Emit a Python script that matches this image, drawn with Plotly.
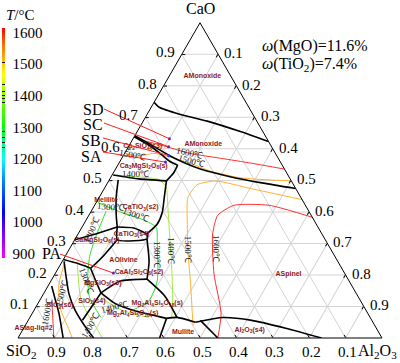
import numpy as np
import plotly.graph_objects as go

# ---------------- data: compositions as (CaO, Al2O3) fractions; SiO2 = 1 - CaO - Al2O3
boundary_lines = [
    [(0.748, 0.0), (0.732, 0.022), (0.710, 0.089), (0.688, 0.176), (0.654, 0.286), (0.623, 0.377)],
    [(0.642, 0.0), (0.617, 0.051), (0.579, 0.126), (0.555, 0.181), (0.536, 0.233), (0.511, 0.330), (0.492, 0.424), (0.474, 0.526)],
    [(0.6386, 0.0), (0.6075, 0.0617), (0.5826, 0.102), (0.5607, 0.136), (0.5483, 0.1645)],
    [(0.5483, 0.1645), (0.5234, 0.1656), (0.4984, 0.1586)],
    [(0.5171, 0.003), (0.5047, 0.0794), (0.4984, 0.1586)],
    [(0.5016, 0.0245), (0.4455, 0.047), (0.3894, 0.0752), (0.352, 0.0966)],
    [(0.4984, 0.1586), (0.4455, 0.179), (0.3988, 0.197), (0.3614, 0.202), (0.3302, 0.189)],
    [(0.352, 0.0966), (0.3489, 0.1434), (0.3302, 0.189)],
    [(0.352, 0.0966), (0.3115, 0.117), (0.3084, 0.1637), (0.3146, 0.197), (0.3302, 0.189)],
    [(0.3146, 0.197), (0.243, 0.2386), (0.1869, 0.261)],
    [(0.3115, 0.0), (0.3302, 0.0485), (0.352, 0.0966)],
    [(0.3115, 0.117), (0.2586, 0.104), (0.2212, 0.089)],
    [(0.2492, 0.0), (0.2368, 0.0448), (0.2212, 0.089)],
    [(0.2212, 0.089), (0.1807, 0.1234), (0.1433, 0.1563)],
    [(0.1433, 0.1563), (0.109, 0.213), (0.0872, 0.2746), (0.0623, 0.377)],
    [(0.1433, 0.1563), (0.1807, 0.191), (0.1869, 0.261)],
    [(0.1869, 0.261), (0.134, 0.3358), (0.0654, 0.404)],
    [(0.0623, 0.377), (0.0654, 0.404), (0.050, 0.462)],
    [(0.1433, 0.1563), (0.0997, 0.153), (0.0561, 0.149)],
    [(0.0623, 0.377), (0.0, 0.389)],
    [(0.050, 0.462), (0.065, 0.531), (0.056, 0.614), (0.031, 0.720), (0.0, 0.834)],
    [(0.056, 0.473), (0.0, 0.549)],
    [(0.243, 0.005), (0.140, 0.070), (0.087, 0.114), (0.025, 0.179), (0.0, 0.208)],
    [(0.165, 0.010), (0.128, 0.037), (0.078, 0.0735), (0.0, 0.124)],
]
iso_1600 = [
    [(0.6293, 0.0169), (0.6137, 0.081), (0.5857, 0.1797), (0.5701, 0.2718), (0.5545, 0.3642), (0.5358, 0.4642)],
    [(0.383, 0.617), (0.421, 0.479), (0.421, 0.383), (0.389, 0.354), (0.327, 0.371), (0.203, 0.437), (0.078, 0.519), (0.0, 0.549)],
    [(0.118, 0.034), (0.0, 0.0986)],
]
iso_1500 = [
    [(0.5857, 0.005), (0.5763, 0.0434), (0.5857, 0.0811), (0.5545, 0.1952), (0.5296, 0.264), (0.5078, 0.3594), (0.4984, 0.5016)],
    [(0.439, 0.561), (0.4735, 0.405), (0.498, 0.294), (0.486, 0.249), (0.445, 0.244), (0.368, 0.281), (0.274, 0.330),
     (0.181, 0.383), (0.087, 0.435), (0.040, 0.461)],
    [(0.243, 0.008), (0.171, 0.027), (0.097, 0.067), (0.025, 0.128), (0.0, 0.149)],
]
iso_1400 = [
    [(0.517, 0.003), (0.511, 0.076), (0.502, 0.137), (0.477, 0.169), (0.430, 0.196), (0.327, 0.253), (0.221, 0.312),
     (0.118, 0.366), (0.062, 0.391)],
    [(0.234, 0.046), (0.128, 0.108), (0.065, 0.164), (0.025, 0.207), (0.0, 0.231)],
    [(0.1277, 0.165), (0.0966, 0.222), (0.0779, 0.273), (0.0654, 0.326)],
]
iso_1300 = [
    [(0.430, 0.004), (0.402, 0.075), (0.374, 0.159), (0.351, 0.2045), (0.305, 0.230), (0.181, 0.292), (0.118, 0.301),
     (0.087, 0.269)],
    [(0.4019, 0.041), (0.3209, 0.053), (0.2586, 0.0676), (0.19, 0.0963), (0.1277, 0.133), (0.0654, 0.195)],
]

dots_tern = {"SD": (0.632, 0.100), "SC": (0.607, 0.110), "SB": (0.579, 0.124), "SA": (0.558, 0.126), "PA": (0.206, 0.159)}
label_px = {"SD": (93, 109), "SC": (93, 124), "SB": (91, 140), "SA": (91, 156), "PA": (51, 253)}
leader_start_px = {"SD": (104, 109), "SC": (104, 123), "SB": (103, 138), "SA": (103, 152), "PA": (60, 254)}

phase_names = ["AMonoxide", "AMonoxide", "Ca<sub>2</sub>SiO<sub>4</sub>(s3)", "Ca<sub>3</sub>MgSi<sub>2</sub>O<sub>8</sub>(s)",
               "Melilite", "CaTiO<sub>3</sub>(s2)", "CaTiO<sub>3</sub>(s4)", "CaMgSi<sub>2</sub>O<sub>6</sub>(s)", "AOlivine",
               "CaAl<sub>2</sub>Si<sub>2</sub>O<sub>8</sub>(s2)", "MgSiO<sub>3</sub>(s3)", "SiO<sub>2</sub>(s4)",
               "Mg<sub>2</sub>Al<sub>4</sub>Si<sub>5</sub>O<sub>18</sub>(s)", "Mg<sub>2</sub>Al<sub>4</sub>Si<sub>5</sub>O<sub>18</sub>(s)",
               "Mullite", "Al<sub>2</sub>O<sub>3</sub>(s4)", "ASpinel", "SiO<sub>2</sub>(s6)", "ASlag-liq#2"]
phase_pos = [(0.829, 0.092), (0.614, 0.202), (0.607, 0.039), (0.545, 0.073),
             (0.436, 0.024), (0.414, 0.130), (0.330, 0.147), (0.3115, 0.061), (0.246, 0.167),
             (0.209, 0.228), (0.174, 0.146), (0.118, 0.144),
             (0.109, 0.328), (0.078, 0.276),
             (0.019, 0.444), (0.025, 0.624), (0.2025, 0.642), (0.103, 0.064), (0.031, 0.027)]

iso_text = ["1600℃", "1500℃", "1400℃", "1500℃", "1300℃", "1300℃", "1300℃", "1300℃", "1400℃", "1500℃", "1600℃",
            "1300℃", "1500℃", "1600℃", "1400℃", "1400℃"]
iso_pos = [(0.586, 0.179), (0.561, 0.195), (0.520, 0.063), (0.579, 0.025), (0.414, 0.046), (0.389, 0.129), (0.343, 0.031),
           (0.265, 0.248), (0.277, 0.283), (0.280, 0.327), (0.283, 0.402),
           (0.181, 0.098), (0.143, 0.049), (0.084, 0.037), (0.097, 0.216), (0.0405, 0.180)]
iso_angle = [12, 15, 0, 10, 5, 20, -65, 90, 90, 90, 90, 70, -75, -80, -15, -60]

tick_vals = [0.1, 0.2, 0.3, 0.4, 0.5, 0.6, 0.7, 0.8, 0.9]
tick_text = ["0.1", "0.2", "0.3", "0.4", "0.5", "0.6", "0.7", "0.8", "0.9"]

cb_ticks = [900, 1000, 1100, 1200, 1300, 1400, 1500, 1600]
cb_marks = [1505, 1435, 1412, 1402, 1392, 1380, 1285, 1268, 1252, 1235]
cb_range = (885, 1615)

# ---------------- geometry of the ternary subplot (pixels)
W, H = 400, 363
tx0, tx1, tyb = 18.0, 382.0, 338.0
side = tx1 - tx0
tyt = tyb - side * np.sqrt(3) / 2


def tern(pts):
    a = [p[0] for p in pts]
    c = [p[1] for p in pts]
    b = [1 - p[0] - p[1] for p in pts]
    return a, b, c


def to_px(a, c):
    return tx0 + side * (c + a / 2), tyb - side * np.sqrt(3) / 2 * a


def px_to_paper(x, y):
    return x / W, 1 - y / H


fig = go.Figure()


def add_lines(groups, color, width):
    for g in groups:
        a, b, c = tern(g)
        fig.add_trace(go.Scatterternary(a=a, b=b, c=c, mode="lines",
                                        line=dict(color=color, width=width, shape="spline", smoothing=0.6),
                                        showlegend=False, hoverinfo="skip"))


add_lines(iso_1300, "#2ee02e", 1)
add_lines(iso_1400, "#a6e845", 1)
add_lines(iso_1500, "#ffb030", 1)
add_lines(iso_1600, "#ff3030", 1)
add_lines(boundary_lines, "black", 1.6)

# phase labels
a, b, c = tern(phase_pos)
fig.add_trace(go.Scatterternary(a=a, b=b, c=c, mode="text", text=["<b>%s</b>" % t for t in phase_names],
                                textfont=dict(family="Liberation Sans", size=7, color="#8e1b1b"),
                                cliponaxis=False, showlegend=False, hoverinfo="skip"))

# composition points
names = list(dots_tern.keys())
a, b, c = tern([dots_tern[k] for k in names])
fig.add_trace(go.Scatterternary(a=a, b=b, c=c, mode="markers", marker=dict(color="#1030ff", size=3),
                                showlegend=False, hoverinfo="skip"))

# colour bar
cscale = [[0, "#ff00ff"], [0.1, "#8000ff"], [0.2, "#0000ff"], [0.33, "#0080ff"], [0.43, "#00ffff"],
          [0.57, "#00ff00"], [0.7, "#80ff00"], [0.8, "#ffff00"], [0.88, "#ffa000"], [0.94, "#ff6000"], [1, "#ff0000"]]
cb_common = dict(x=2 / W, xanchor="left", xpad=0, ypad=0, y=1 - 258 / H, yanchor="bottom",
                 len=230, lenmode="pixels", thickness=3, outlinewidth=0)
fig.add_trace(go.Scatterternary(a=[0.5], b=[0.25], c=[0.25], mode="markers",
                                marker=dict(size=1, opacity=0, color=[1600], cmin=cb_range[0], cmax=cb_range[1],
                                            colorscale=cscale, showscale=True,
                                            colorbar=dict(tickvals=cb_ticks, ticks="outside", ticklen=5,
                                                          tickcolor="rgba(0,0,0,0)",
                                                          tickfont=dict(family="Liberation Serif", size=15, color="black"),
                                                          **cb_common)),
                                showlegend=False, hoverinfo="skip"))
fig.add_trace(go.Scatterternary(a=[0.5], b=[0.25], c=[0.25], mode="markers",
                                marker=dict(size=1, opacity=0, color=[1600], cmin=cb_range[0], cmax=cb_range[1],
                                            colorscale=cscale, showscale=True,
                                            colorbar=dict(tickvals=cb_marks, ticks="inside", ticklen=3, tickwidth=1,
                                                          tickcolor="#111", showticklabels=False, **cb_common)),
                                showlegend=False, hoverinfo="skip"))

anns = []


def add_text(t, x, y, size, anchor="center", angle=0, color="black"):
    px, py = px_to_paper(x, y)
    anns.append(dict(x=px, y=py, xref="paper", yref="paper", xanchor=anchor, yanchor="middle", text=t,
                     showarrow=False, textangle=angle, font=dict(family="Liberation Serif", size=size, color=color)))


for t, p, ang in zip(iso_text, iso_pos, iso_angle):
    x, y = to_px(p[0], p[1])
    add_text(t, x, y, 9, angle=ang, color="#222")

# tick labels of the three axes
for v, t in zip(tick_vals, tick_text):
    x, y = to_px(v, 0.0)          # CaO axis, left edge
    add_text(t, x - 16.5, y - 2, 15)
    x, y = to_px(1 - v, v)        # Al2O3 axis, right edge
    add_text(t, x + 15.5, y - 1, 15)
    x, y = to_px(0.0, 1 - v)      # SiO2 axis, bottom edge
    add_text(t, x + 2, 352, 15)

shapes = []
for k in names:
    lx, ly = label_px[k]
    add_text(k, lx, ly, 16)
    sx, sy = leader_start_px[k]
    ex, ey = to_px(*dots_tern[k])
    x0p, y0p = px_to_paper(sx, sy)
    x1p, y1p = px_to_paper(ex, ey)
    shapes.append(dict(type="line", xref="paper", yref="paper", x0=x0p, y0=y0p, x1=x1p, y1=y1p,
                       line=dict(color="#ff2020", width=1)))

add_text("<i>ω</i>(MgO)=11.6%", 260, 46, 16, anchor="left")
add_text("<i>ω</i>(TiO<sub>2</sub>)=7.4%", 260, 64, 16, anchor="left")
add_text("CaO", 200, 8, 16)
add_text("SiO<sub>2</sub>", 21, 351, 16)
add_text("Al<sub>2</sub>O<sub>3</sub>", 377, 351, 16)
add_text("<i>T</i>/°C", 20, 15, 15)

axis_common = dict(showgrid=True, gridcolor="#d4d4d4", gridwidth=1, linecolor="black", linewidth=1,
                   ticks="inside", ticklen=3, tickcolor="black", tickvals=tick_vals, showticklabels=False,
                   title=dict(text=""))

fig.update_layout(
    width=W, height=H, margin=dict(l=0, r=0, t=0, b=0),
    paper_bgcolor="white", showlegend=False,
    ternary=dict(
        domain=dict(x=[tx0 / W, tx1 / W], y=[(H - tyb) / H, (H - tyt) / H]),
        bgcolor="white", sum=1,
        aaxis=axis_common, baxis=axis_common, caxis=axis_common,
    ),
    annotations=anns, shapes=shapes,
)

fig.write_html("out.html", config={"displayModeBar": False}, post_script="document.body.style.margin='0';")
